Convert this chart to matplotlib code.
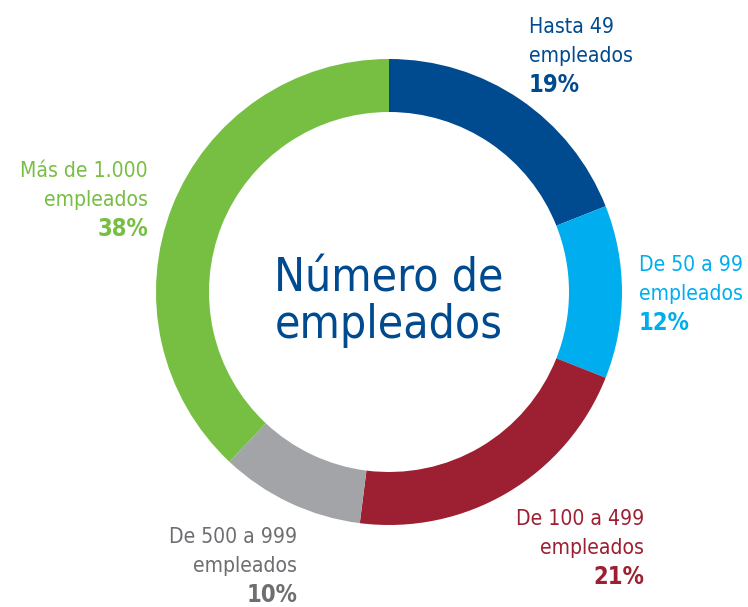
import matplotlib.pyplot as plt
from matplotlib import font_manager
from matplotlib.font_manager import FontProperties

# Data
categories = ['Hasta 49\nempleados', 'De 50 a 99\nempleados', 'De 100 a 499\nempleados',
              'De 500 a 999\nempleados', 'Más de 1.000\nempleados']
shares = [19, 12, 21, 10, 38]
wedge_colors = ['#004a8f', '#00aeef', '#9d1f32', '#a2a4a8', '#77bf43']
text_colors = ['#004a8f', '#00aeef', '#9d1f32', '#6d6e71', '#77bf43']


def pick_font(bold=False):
    # prefer a narrow / condensed face if one is installed
    want = 'bold' if bold else 'normal'
    for f in font_manager.fontManager.ttflist:
        narrow = ('Narrow' in f.name or 'Condensed' in f.name
                  or f.stretch in ('condensed', 'semi-condensed', 300, 400))
        w = 'bold' if (f.weight in ('bold', 700) or str(f.weight) == '700') else 'normal'
        if narrow and w == want and f.style == 'normal' and (
                'Liberation' in f.name or 'DejaVu' in f.name):
            return FontProperties(fname=f.fname)
    return FontProperties(family='Liberation Sans', weight=want)


reg_fp = pick_font()
bold_fp = pick_font(True)

W, H = 748, 607
fig = plt.figure(figsize=(W / 100, H / 100), dpi=100)
ax = fig.add_axes([0, 0, 1, 1])

# donut, clockwise from the top
cx, cy, R = 389, H - 292, 233
ax.pie(shares, colors=wedge_colors, startangle=90, counterclock=False,
       center=(cx, cy), radius=R, wedgeprops=dict(width=53, linewidth=0),
       frame=True)
ax.set_xlim(0, W)
ax.set_ylim(0, H)
ax.set_aspect('equal')
ax.axis('off')

renderer = fig.canvas.get_renderer()


def fit_size(text, fp, target_px, base=17):
    t = fig.text(0, 0, text, fontproperties=fp, fontsize=base)
    w = t.get_window_extent(renderer).width
    t.remove()
    return base * target_px / w


lab_size = fit_size('empleados', reg_fp, 103)
pct_size = fit_size('19%', bold_fp, 51)
title_size = fit_size('Número de', reg_fp, 229, 40)

# label anchor: (x, baseline of first line, alignment)
label_pos = [(529, 33, 'left'), (639, 271, 'left'), (644, 525, 'right'),
             (297, 543, 'right'), (148, 177, 'right')]
gap = 29.5
for (x, y, ha), cat, val, col in zip(label_pos, categories, shares, text_colors):
    l1, l2 = cat.split('\n')
    ax.text(x, H - y, l1, ha=ha, va='baseline', color=col,
            fontproperties=reg_fp, fontsize=lab_size)
    ax.text(x, H - y - gap, l2, ha=ha, va='baseline', color=col,
            fontproperties=reg_fp, fontsize=lab_size)
    ax.text(x, H - y - 2 * gap, f'{val}%', ha=ha, va='baseline', color=col,
            fontproperties=bold_fp, fontsize=pct_size)

# center title
ax.text(cx, H - 291, 'Número de', ha='center', va='baseline', color='#004a8f',
        fontproperties=reg_fp, fontsize=title_size)
ax.text(cx, H - 338, 'empleados', ha='center', va='baseline', color='#004a8f',
        fontproperties=reg_fp, fontsize=title_size)

fig.savefig('out.png', dpi=100)
